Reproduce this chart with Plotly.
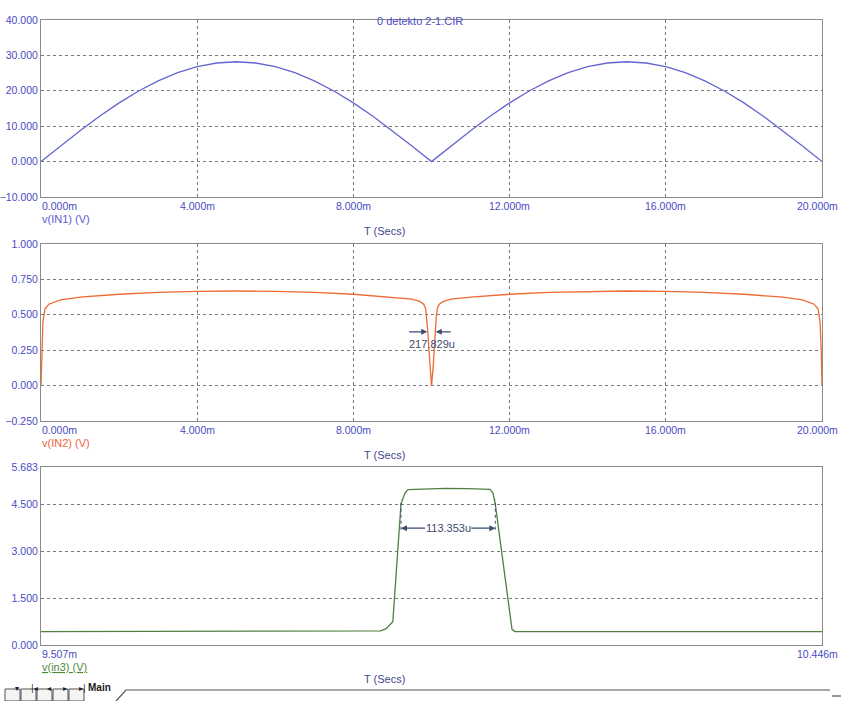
import plotly.graph_objects as go

# ---------------------------------------------------------------------------#
# Data (time in ms)
# ---------------------------------------------------------------------------#
t_in1 = [0.0, 0.5, 1.0, 1.5, 2.0, 2.5, 3.0, 3.5, 4.0, 4.5, 5.0,
         5.5, 6.0, 6.5, 7.0, 7.5, 8.0, 8.5, 9.0, 9.5, 10.0,
         10.5, 11.0, 11.5, 12.0, 12.5, 13.0, 13.5, 14.0, 14.5, 15.0,
         15.5, 16.0, 16.5, 17.0, 17.5, 18.0, 18.5, 19.0, 19.5, 20.0]
v_in1 = [0.00, 4.41, 8.71, 12.80, 16.58, 19.94, 22.81, 25.13, 26.82, 27.85, 28.20,
         27.85, 26.82, 25.13, 22.81, 19.94, 16.58, 12.80, 8.71, 4.41, 0.00,
         4.41, 8.71, 12.80, 16.58, 19.94, 22.81, 25.13, 26.82, 27.85, 28.20,
         27.85, 26.82, 25.13, 22.81, 19.94, 16.58, 12.80, 8.71, 4.41, 0.00]

t_in2 = [0, 0.02, 0.05, 0.1, 0.2, 0.5, 1, 2, 3, 4, 5,
         6, 7, 8, 9, 9.5, 9.7, 9.8, 9.85, 9.88, 9.9,
         9.93, 9.96, 10.0, 10.04, 10.07, 10.1, 10.12, 10.15, 10.2, 10.3,
         10.5, 11, 12, 13, 14, 15, 16, 17, 18, 19,
         19.5, 19.8, 19.9, 19.95, 19.98, 20]
v_in2 = [0, 0.25, 0.45, 0.54, 0.575, 0.605, 0.625, 0.645, 0.658, 0.665, 0.668,
         0.665, 0.658, 0.645, 0.625, 0.61, 0.595, 0.575, 0.545, 0.48, 0.40,
         0.27, 0.12, 0.0, 0.12, 0.27, 0.40, 0.48, 0.545, 0.575, 0.595,
         0.61, 0.625, 0.645, 0.658, 0.665, 0.668, 0.665, 0.658, 0.645, 0.625,
         0.605, 0.575, 0.54, 0.45, 0.25, 0]

t_in3 = [9.507, 9.900, 9.915, 9.922, 9.930, 9.9398, 9.9446, 9.9482, 9.970,
         9.9927, 10.020, 10.0468, 10.0504, 10.0532, 10.0733, 10.0769, 10.446]
v_in3 = [0.43, 0.43, 0.45, 0.52, 0.74, 4.50, 4.85, 4.96, 4.99,
         5.00, 4.99, 4.97, 4.85, 4.50, 0.50, 0.43, 0.43]

# tick values / labels
x12_ticks = [0, 4, 8, 12, 16, 20]
x12_text = ["0.000m", "4.000m", "8.000m", "12.000m", "16.000m", "20.000m"]
x3_ticks = [9.507, 10.446]
x3_text = ["9.507m", "10.446m"]
y1_ticks = [-10, 0, 10, 20, 30, 40]
y2_ticks = [-0.25, 0, 0.25, 0.5, 0.75, 1.0]
y3_ticks = [0, 1.5, 3.0, 4.5, 5.683]

# cursor measurements
dip_t = [9.891, 10.109]
dip_level = 0.38
dip_label = "217.829u"
pulse_t = [9.9398, 10.0532]
pulse_level = 3.73
pulse_label = "113.353u"

W, H = 841, 701
FONT = "Liberation Sans, Arial, sans-serif"
TICK_COL = "#4b4bc4"
GRID_COL = "#7a7a7a"
FRAME_COL = "#8c8c84"


def px(x):
    return x / W


def py(y):
    return 1 - y / H


fig = go.Figure()
fig.add_trace(go.Scatter(x=t_in1, y=v_in1, mode="lines", xaxis="x", yaxis="y",
                         line=dict(color="#6464d2", width=1.3)))
fig.add_trace(go.Scatter(x=t_in2, y=v_in2, mode="lines", xaxis="x2", yaxis="y2",
                         line=dict(color="#f06a34", width=1.3)))
fig.add_trace(go.Scatter(x=t_in3, y=v_in3, mode="lines", xaxis="x3", yaxis="y3",
                         line=dict(color="#4f8040", width=1.3)))

xdom = [px(41), px(822)]
panels = [(20, 197), (244, 421), (467, 645)]


def xax(rng, grid, anchor):
    return dict(domain=xdom, range=rng, anchor=anchor, showgrid=grid,
                gridcolor=GRID_COL, griddash="3px,3px", gridwidth=1,
                tickvals=x12_ticks if grid else [], showticklabels=False,
                showline=True, mirror=True, linecolor=FRAME_COL, linewidth=1,
                zeroline=False, ticks="", automargin=False)


def yax(rng, ticks, anchor, top, bot):
    return dict(domain=[py(bot), py(top)], range=rng, anchor=anchor,
                tickvals=ticks, tickformat=".3f", showgrid=True,
                gridcolor=GRID_COL, griddash="3px,3px", gridwidth=1,
                showline=True, mirror=True, linecolor=FRAME_COL, linewidth=1,
                zeroline=False, ticks="", ticklabelstandoff=0, automargin=False,
                tickfont=dict(family=FONT, size=10.5, color=TICK_COL))


fig.update_layout(
    width=W, height=H, margin=dict(l=0, r=0, t=0, b=0, pad=0),
    paper_bgcolor="white", plot_bgcolor="white", showlegend=False,
    hovermode=False,
    xaxis=xax([0, 20], True, "y"),
    yaxis=yax([-10, 40], y1_ticks, "x", *panels[0]),
    xaxis2=xax([0, 20], True, "y2"),
    yaxis2=yax([-0.25, 1.0], y2_ticks, "x2", *panels[1]),
    xaxis3=xax([9.507, 10.446], False, "y3"),
    yaxis3=yax([0, 5.683], y3_ticks, "x3", *panels[2]),
)

ann = []
# x tick labels as annotations (first left-aligned, last pushed to the edge)
for xa, ya, ticks, texts in [("x", "y", x12_ticks, x12_text),
                             ("x2", "y2", x12_ticks, x12_text),
                             ("x3", "y3", x3_ticks, x3_text)]:
    n = len(ticks)
    for i, (tv, tt) in enumerate(zip(ticks, texts)):
        anchor = "left" if i == 0 else ("right" if i == n - 1 else "center")
        ann.append(dict(x=tv, y=0, xref=xa, yref=ya + " domain", text=tt,
                        showarrow=False, yanchor="top", yshift=-1,
                        xanchor=anchor, xshift=18 if i == n - 1 else -1 if i == 0 else 0,
                        font=dict(family=FONT, size=10.5, color=TICK_COL)))

# trace names and time axis captions
names = [("v(IN1) (V)", "#5a5ad0", "y"), ("v(IN2) (V)", "#f0643c", "y2"),
         ("<u>v(in3) (V)</u>", "#4f8a3a", "y3")]
for i, (nm, col, ya) in enumerate(names):
    xa = ["x", "x2", "x3"][i]
    ann.append(dict(x=0, y=0, xref=xa + " domain", yref=ya + " domain", text=nm,
                    showarrow=False, xanchor="left", yanchor="top", yshift=-14,
                    xshift=-1, font=dict(family=FONT, size=11, color=col)))
    ann.append(dict(x=0.44, y=0, xref=xa + " domain", yref=ya + " domain",
                    text="T (Secs)", showarrow=False, xanchor="center",
                    yanchor="top", yshift=-26,
                    font=dict(family=FONT, size=11, color="#3f4a8a")))

# title
ann.append(dict(x=0.485, y=py(13), xref="x domain", yref="paper",
                text="0 detekto 2-1.CIR", showarrow=False,
                font=dict(family=FONT, size=11, color="#4b4bc4")))

MEAS_COL = "#3d4b6e"
# dip width cursor (panel 2): arrows pointing inwards
ann.append(dict(x=dip_t[0], y=dip_level, xref="x2", yref="y2", ax=dip_t[0] - 0.5,
                ay=dip_level, axref="x2", ayref="y2", text="", showarrow=True,
                arrowhead=2, arrowsize=1, arrowwidth=1.2, arrowcolor=MEAS_COL))
ann.append(dict(x=dip_t[1], y=dip_level, xref="x2", yref="y2", ax=dip_t[1] + 0.42,
                ay=dip_level, axref="x2", ayref="y2", text="", showarrow=True,
                arrowhead=2, arrowsize=1, arrowwidth=1.2, arrowcolor=MEAS_COL))
ann.append(dict(x=sum(dip_t) / 2, y=dip_level, xref="x2", yref="y2",
                text=dip_label, showarrow=False, yshift=-12,
                font=dict(family=FONT, size=11, color=MEAS_COL)))

# pulse width cursor (panel 3): arrows pointing outwards
pc = sum(pulse_t) / 2
ann.append(dict(x=pulse_t[0], y=pulse_level, xref="x3", yref="y3", ax=pc - 0.026,
                ay=pulse_level, axref="x3", ayref="y3", text="", showarrow=True,
                arrowhead=2, arrowsize=1, arrowwidth=1.2, arrowcolor=MEAS_COL))
ann.append(dict(x=pulse_t[1], y=pulse_level, xref="x3", yref="y3", ax=pc + 0.026,
                ay=pulse_level, axref="x3", ayref="y3", text="", showarrow=True,
                arrowhead=2, arrowsize=1, arrowwidth=1.2, arrowcolor=MEAS_COL))
ann.append(dict(x=pc, y=pulse_level, xref="x3", yref="y3", text=pulse_label,
                showarrow=False, font=dict(family=FONT, size=11, color=MEAS_COL)))

shapes = []
for tv in pulse_t:
    shapes.append(dict(type="line", xref="x3", yref="y3", x0=tv, x1=tv,
                       y0=pulse_level - 0.05, y1=4.65,
                       line=dict(color=MEAS_COL, width=1, dash="dot")))

# bottom tab strip (page navigation)
btn_x = [5, 21, 37, 53, 69]
btn_txt = ["▾", "|◂", "◂", "▸", "▸|"]
for bx, bt in zip(btn_x, btn_txt):
    shapes.append(dict(type="rect", xref="paper", yref="paper",
                       x0=px(bx), x1=px(bx + 15), y0=py(701), y1=py(689),
                       line=dict(color="#505050", width=1), fillcolor="#f4f4f4"))
    ann.append(dict(x=px(bx + 7.5), y=py(695), xref="paper", yref="paper",
                    text=bt, showarrow=False,
                    font=dict(family="DejaVu Sans", size=8, color="#202020")))
ann.append(dict(x=px(86), y=py(695), xref="paper", yref="paper", text="<b>Main</b>",
                showarrow=False, xanchor="left",
                font=dict(family=FONT, size=10, color="#202020")))
shapes.append(dict(type="path", xref="paper", yref="paper",
                   path=f"M {px(116)} {py(701)} L {px(126)} {py(690)} L {px(830)} {py(690)}",
                   line=dict(color="#555555", width=1.2)))
shapes.append(dict(type="line", xref="paper", yref="paper", x0=px(832), x1=px(841),
                   y0=py(696), y1=py(696), line=dict(color="#555555", width=1.2)))

fig.update_layout(annotations=ann, shapes=shapes)
# drop the default body margin so the figure sits at the page's top-left corner
fig.write_html("out.html", config={"displayModeBar": False},
               post_script="document.body.style.margin='0';")
